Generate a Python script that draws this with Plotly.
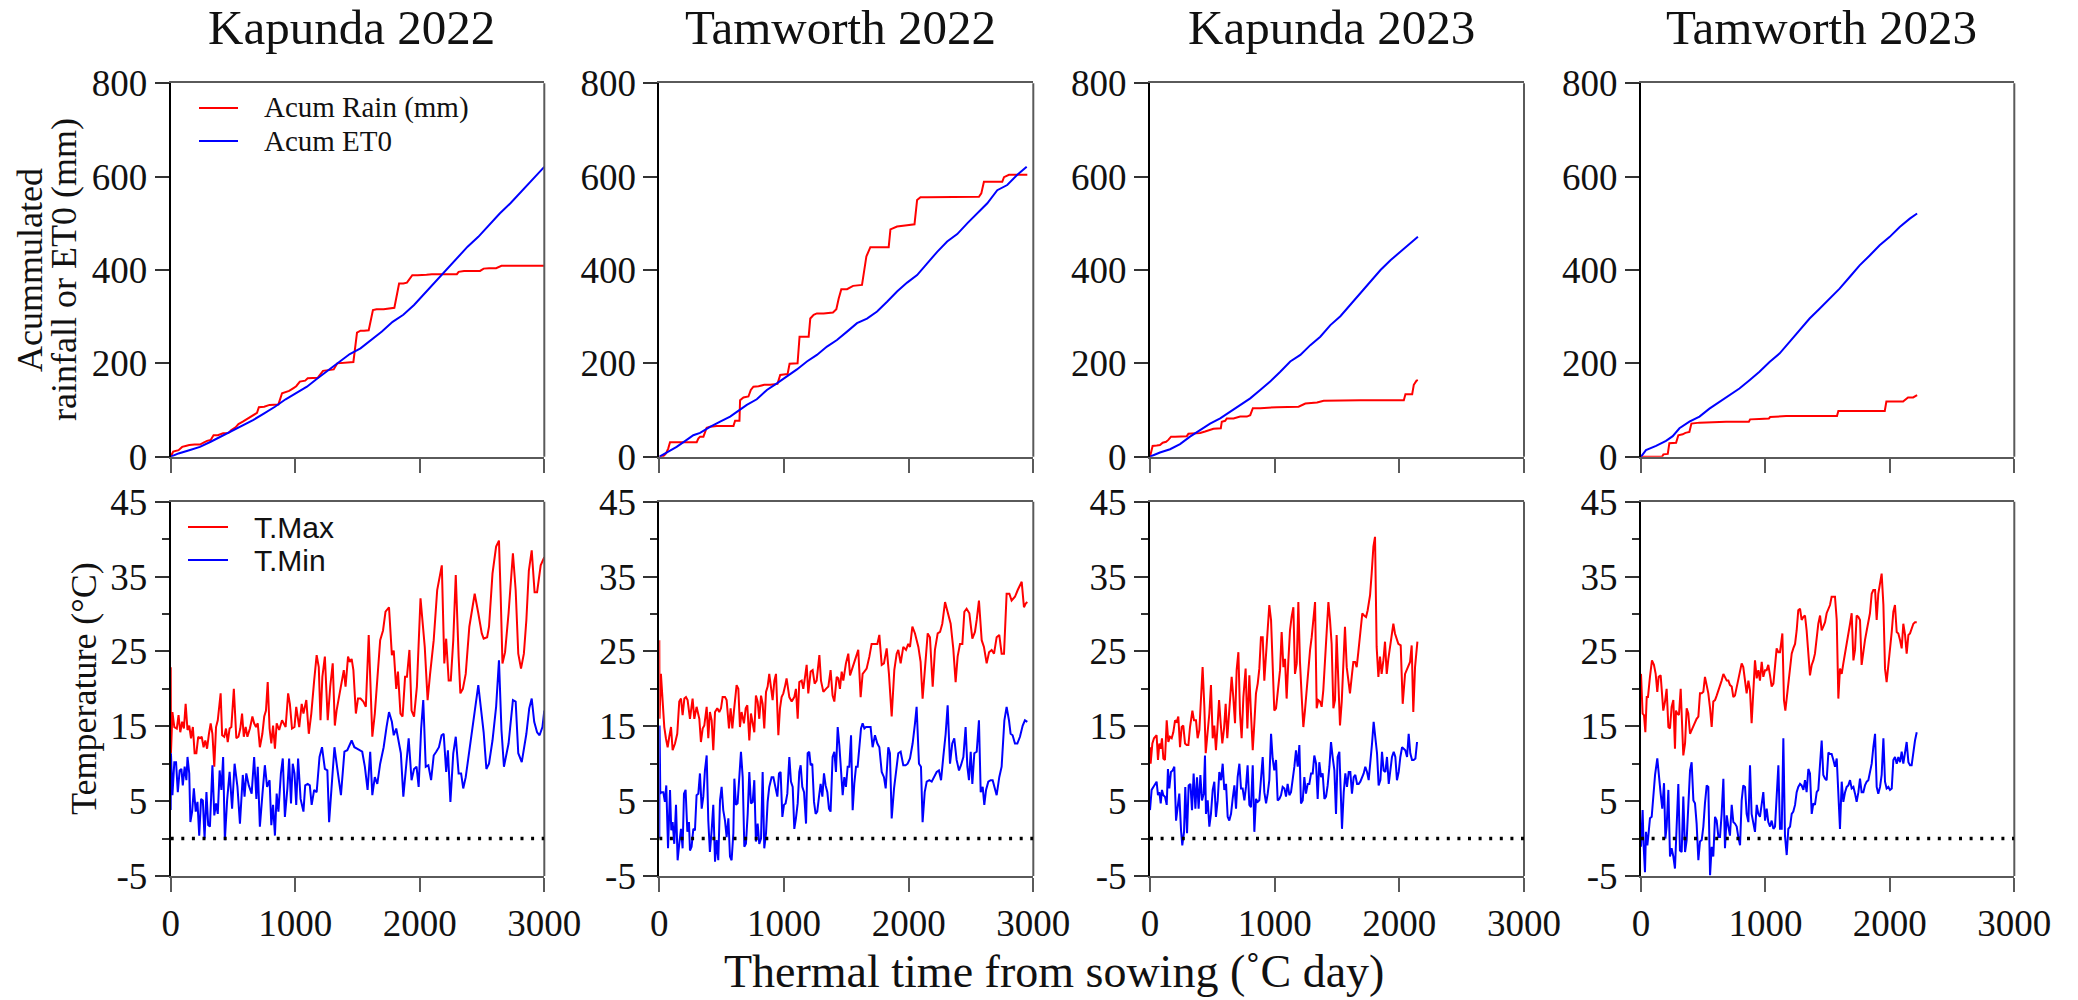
import plotly.graph_objects as go

# ---------------- data: (thermal time from sowing, value) ----------------
sites = ["Kapunda 2022", "Tamworth 2022", "Kapunda 2023", "Tamworth 2023"]

# accumulated rainfall (mm)
kap22_rain = [(0,0),(20,11),(63,14),(77,18),(92,21),(120,23),(149,25),(192,26),(235,26),(264,30),(292,34),(321,36),(344,46),(378,46),(421,50),(464,51),(487,57),(521,63),(544,70),(579,75),(622,82),(650,87),(693,94),(708,106),(751,107),(794,111),(865,112),(894,136),(923,139),(951,141),(980,146),(1008,151),(1037,161),(1080,163),(1100,168),(1137,169),(1180,169),(1223,184),(1266,186),(1309,187),(1338,200),(1381,201),(1424,203),(1467,203),(1496,266),(1524,270),(1553,270),(1590,271),(1624,314),(1653,316),(1710,316),(1753,317),(1796,319),(1834,371),(1868,371),(1897,373),(1911,379),(1940,389),(1983,389),(2026,389),(2054,390),(2097,391),(2140,391),(2240,391),(2298,391),(2312,396),(2355,398),(2484,398),(2513,403),(2556,404),(2613,404),(2656,409),(2699,409),(3000,409)]
tam22_rain = [(0,0),(32,1),(54,7),(72,18),(86,31),(126,31),(220,31),(300,31),(313,39),(327,43),(354,43),(380,62),(407,64),(461,66),(541,66),(595,66),(608,77),(643,77),(648,121),(675,127),(715,129),(734,143),(755,150),(796,151),(841,154),(889,154),(948,156),(970,175),(997,176),(1029,177),(1045,199),(1077,200),(1109,200),(1125,257),(1157,257),(1198,257),(1211,296),(1238,304),(1264,307),(1318,307),(1393,309),(1420,316),(1439,339),(1460,359),(1506,359),(1532,362),(1554,366),(1626,368),(1640,393),(1661,429),(1693,449),(1747,449),(1840,449),(1854,487),(1881,491),(1907,493),(1988,496),(2047,498),(2068,550),(2095,556),(2149,556),(2416,556),(2564,557),(2583,564),(2604,589),(2658,589),(2751,589),(2765,599),(2805,604),(2872,604),(2952,604)]
kap23_rain = [(0,0),(21,23),(54,24),(80,25),(102,30),(129,32),(147,36),(169,43),(201,43),(255,44),(295,44),(308,49),(348,50),(402,51),(442,54),(482,57),(509,60),(568,61),(576,75),(603,77),(616,82),(670,82),(723,86),(777,86),(804,89),(825,104),(884,104),(1018,106),(1098,106),(1192,107),(1246,114),(1340,116),(1393,120),(1527,121),(1688,121),(1902,121),(2036,121),(2049,134),(2103,134),(2116,154),(2138,163),(2149,164)]
tam23_rain = [(0,0),(40,0),(148,0),(169,0),(180,5),(215,6),(228,29),(282,30),(300,46),(335,48),(357,51),(389,53),(405,71),(470,73),(577,74),(684,75),(867,75),(877,80),(952,81),(1028,82),(1038,85),(1154,86),(1167,87),(1355,87),(1575,87),(1586,98),(1757,98),(1959,98),(1972,118),(2106,118),(2146,127),(2187,127),(2219,132)]

# accumulated reference evapotranspiration ET0 (mm)
kap22_et0 = [(0,0),(63,7),(149,14),(235,21),(321,32),(407,44),(493,56),(579,68),(665,79),(751,93),(837,107),(923,123),(1008,136),(1094,150),(1180,168),(1266,186),(1352,204),(1438,220),(1524,232),(1610,250),(1696,268),(1782,289),(1868,304),(1954,325),(2040,350),(2126,375),(2212,400),(2298,425),(2384,450),(2470,471),(2556,496),(2642,521),(2728,543),(2813,568),(2899,593),(3000,621)]
tam22_et0 = [(0,0),(59,9),(139,21),(220,36),(273,46),(327,51),(407,64),(488,75),(568,86),(622,96),(702,111),(782,123),(863,143),(943,157),(1023,171),(1104,187),(1184,204),(1264,218),(1345,236),(1425,250),(1506,268),(1586,286),(1666,296),(1747,311),(1827,332),(1907,354),(1988,373),(2068,389),(2149,414),(2229,439),(2309,461),(2390,477),(2470,500),(2550,521),(2631,543),(2711,571),(2791,582),(2872,604),(2947,621)]
kap23_et0 = [(0,0),(80,9),(161,16),(241,27),(321,43),(402,57),(482,71),(563,82),(643,96),(723,111),(804,125),(884,143),(964,161),(1045,182),(1125,204),(1206,218),(1286,239),(1366,257),(1447,282),(1527,301),(1607,325),(1688,350),(1768,375),(1849,400),(1929,421),(2009,439),(2090,459),(2149,471)]
tam23_et0 = [(0,0),(40,14),(121,23),(201,34),(255,44),(309,61),(389,75),(470,86),(550,103),(631,118),(711,132),(791,146),(872,164),(952,182),(1033,203),(1113,221),(1194,246),(1274,271),(1355,296),(1435,317),(1516,339),(1596,360),(1677,385),(1757,410),(1838,431),(1918,453),(1999,471),(2079,492),(2160,510),(2219,521)]

# daily maximum temperature (°C)
kap22_tmax = [(0,22.9),(2,11.4),(14,16.9),(29,14.9),(49,14.7),(63,16.5),(77,14.2),(92,15.6),(106,14.7),(120,18.0),(135,14.5),(149,15.1),(163,13.4),(178,14.9),(192,11.4),(206,11.4),(221,13.6),(235,13.4),(249,13.6),(264,12.2),(278,13.1),(292,12.0),(307,14.0),(321,15.4),(335,14.0),(350,9.6),(364,14.9),(378,15.8),(401,19.4),(413,13.8),(430,13.6),(444,14.7),(458,12.9),(473,14.7),(487,14.9),(507,20.0),(527,13.4),(544,13.6),(559,14.7),(573,16.7),(587,13.6),(602,14.9),(616,13.6),(636,14.7),(656,16.3),(670,15.4),(685,14.9),(699,15.4),(716,12.2),(736,14.0),(751,16.3),(765,17.1),(779,20.9),(794,14.7),(808,12.7),(822,15.1),(837,12.0),(851,15.4),(871,14.5),(894,15.8),(923,14.9),(943,19.4),(957,18.0),(974,14.7),(994,14.9),(1008,17.6),(1032,14.9),(1052,18.0),(1066,16.7),(1089,18.5),(1109,14.0),(1129,16.7),(1152,21.1),(1172,24.5),(1189,22.9),(1203,15.8),(1218,21.6),(1238,24.3),(1261,15.8),(1281,20.3),(1301,23.4),(1318,15.1),(1332,17.1),(1352,18.9),(1372,21.1),(1390,22.5),(1404,20.3),(1424,24.3),(1438,23.6),(1453,24.0),(1467,22.5),(1487,16.7),(1504,18.7),(1524,18.7),(1547,18.3),(1567,17.6),(1590,27.2),(1619,13.6),(1639,16.7),(1662,22.0),(1682,26.5),(1705,27.8),(1725,30.3),(1753,30.9),(1776,24.5),(1791,25.1),(1811,20.0),(1825,22.3),(1845,16.7),(1862,16.3),(1882,21.6),(1897,21.6),(1917,25.2),(1934,17.1),(1954,16.3),(1977,20.3),(2006,32.1),(2040,25.6),(2063,18.5),(2083,22.0),(2112,26.5),(2140,33.2),(2177,36.5),(2197,23.4),(2212,26.7),(2232,21.1),(2249,21.1),(2269,26.5),(2289,35.2),(2312,24.3),(2326,19.4),(2346,20.0),(2369,22.0),(2398,28.3),(2441,32.7),(2470,30.1),(2498,27.4),(2513,26.7),(2541,26.9),(2556,28.3),(2584,35.4),(2613,39.0),(2636,39.8),(2650,32.3),(2664,23.4),(2685,24.9),(2713,30.1),(2748,38.1),(2770,33.2),(2791,24.7),(2813,22.7),(2836,24.7),(2856,29.2),(2876,35.8),(2899,38.5),(2922,32.9),(2942,32.9),(2971,36.5),(3000,37.6)]
tam22_tmax = [(0,26.5),(2,16.0),(13,22.0),(27,18.9),(40,14.9),(53,13.4),(67,12.2),(80,13.6),(94,14.9),(107,11.8),(126,12.7),(144,14.0),(160,18.3),(174,18.7),(187,16.5),(201,18.7),(214,18.9),(227,18.5),(246,16.0),(267,18.7),(281,16.0),(299,17.6),(321,16.0),(334,12.9),(348,14.7),(361,15.1),(380,17.6),(393,13.4),(406,16.9),(420,15.8),(433,11.8),(447,16.9),(465,17.4),(481,16.9),(495,17.4),(508,18.9),(527,18.9),(540,18.5),(559,14.7),(572,17.4),(586,14.7),(599,17.1),(620,20.5),(634,20.0),(647,14.9),(660,16.9),(679,15.4),(693,17.4),(706,17.8),(722,13.1),(735,16.7),(749,15.4),(762,14.2),(775,19.1),(789,18.3),(802,16.0),(816,19.1),(829,18.0),(842,14.7),(856,19.6),(869,20.3),(882,22.0),(896,20.3),(909,18.5),(923,21.1),(936,22.0),(955,13.8),(968,17.4),(981,18.9),(995,19.4),(1008,20.3),(1021,21.4),(1043,18.9),(1062,18.3),(1083,18.9),(1096,20.0),(1110,16.0),(1123,20.9),(1142,21.1),(1155,20.0),(1169,21.6),(1182,23.2),(1195,19.4),(1214,22.3),(1230,22.5),(1246,20.7),(1262,21.1),(1284,24.5),(1297,21.1),(1316,19.6),(1337,20.0),(1356,20.3),(1374,22.5),(1390,19.1),(1404,18.3),(1423,21.6),(1436,21.4),(1449,20.0),(1463,22.3),(1476,21.1),(1497,23.4),(1516,24.7),(1530,21.8),(1551,22.9),(1578,24.3),(1596,25.2),(1615,18.9),(1631,22.0),(1645,22.3),(1663,22.7),(1685,24.3),(1703,26.0),(1730,26.0),(1749,26.0),(1765,27.2),(1784,23.2),(1802,23.4),(1824,25.4),(1842,22.0),(1864,16.3),(1885,22.5),(1904,24.7),(1917,25.2),(1936,23.4),(1957,25.6),(1979,25.2),(1997,26.0),(2011,25.6),(2030,28.3),(2051,27.4),(2078,25.6),(2096,23.6),(2112,18.7),(2131,22.5),(2153,27.4),(2171,26.9),(2193,20.3),(2211,25.2),(2233,27.4),(2252,27.6),(2270,28.7),(2292,31.6),(2318,30.1),(2337,28.7),(2358,25.4),(2377,20.9),(2393,24.3),(2412,26.0),(2431,26.0),(2447,30.3),(2465,30.7),(2487,30.1),(2511,26.7),(2532,27.6),(2546,29.2),(2564,31.8),(2586,26.5),(2604,25.6),(2626,23.4),(2645,24.9),(2666,25.2),(2685,24.7),(2706,26.9),(2727,27.2),(2746,24.7),(2765,24.7),(2786,32.7),(2808,32.7),(2826,31.8),(2853,32.3),(2875,33.2),(2907,34.3),(2925,30.9),(2939,31.4),(2952,31.6)]
kap23_tmax = [(0,12.2),(5,10.0),(19,12.7),(32,13.4),(53,13.8),(64,10.5),(75,12.7),(86,12.0),(96,13.4),(107,10.7),(120,10.5),(134,15.8),(147,12.9),(160,13.6),(174,13.4),(187,14.2),(201,15.8),(214,15.6),(227,16.3),(241,12.2),(254,14.9),(267,15.1),(281,12.7),(294,12.5),(308,12.5),(321,14.9),(340,17.1),(353,15.8),(369,15.8),(382,13.4),(396,14.5),(409,18.0),(422,22.9),(436,17.6),(447,11.4),(460,13.8),(476,16.7),(489,20.5),(503,13.4),(516,15.1),(529,11.8),(540,14.5),(554,18.5),(567,15.4),(580,12.7),(594,14.7),(607,18.0),(620,13.4),(634,16.3),(655,21.6),(668,18.9),(682,15.4),(695,22.5),(709,24.9),(722,16.7),(735,13.4),(749,18.9),(767,22.7),(781,14.7),(797,21.8),(810,16.7),(824,11.8),(837,15.4),(850,19.4),(864,20.7),(877,22.7),(890,26.9),(904,26.9),(917,21.1),(931,24.3),(944,27.6),(957,31.2),(971,29.2),(984,22.5),(997,17.1),(1011,17.4),(1029,20.3),(1043,22.5),(1056,27.6),(1070,22.9),(1083,24.0),(1096,18.7),(1110,23.8),(1123,27.8),(1136,29.6),(1150,30.9),(1163,22.0),(1177,23.4),(1190,31.6),(1203,23.6),(1217,18.9),(1230,14.9),(1243,17.1),(1257,19.8),(1270,22.9),(1284,25.2),(1297,26.9),(1310,29.2),(1324,31.6),(1337,17.4),(1350,18.5),(1364,18.3),(1377,17.6),(1390,19.8),(1404,23.8),(1417,28.3),(1431,31.6),(1444,29.2),(1457,26.0),(1471,17.4),(1484,18.5),(1497,27.2),(1511,21.1),(1524,15.1),(1538,18.3),(1551,23.6),(1564,28.3),(1578,22.9),(1591,21.1),(1604,19.4),(1618,21.6),(1631,23.6),(1645,23.6),(1658,22.9),(1671,24.9),(1685,26.9),(1703,30.1),(1717,29.8),(1733,29.6),(1746,30.5),(1765,32.5),(1778,35.4),(1792,39.0),(1805,40.3),(1818,25.6),(1832,21.6),(1845,24.3),(1858,22.0),(1872,23.8),(1885,26.3),(1899,22.0),(1912,24.0),(1925,25.6),(1939,26.9),(1952,28.7),(1965,27.4),(1979,26.7),(1992,26.0),(2011,25.8),(2027,18.0),(2046,22.0),(2059,22.5),(2072,22.9),(2086,23.6),(2099,25.8),(2112,16.9),(2126,22.9),(2145,26.3)]
tam23_tmax = [(0,22.0),(13,16.7),(24,16.5),(35,14.2),(46,18.9),(56,18.9),(72,21.6),(88,23.8),(104,23.2),(118,22.0),(131,19.6),(142,21.6),(158,21.8),(169,19.4),(179,17.1),(193,18.3),(206,20.0),(220,14.9),(233,14.7),(246,17.6),(260,18.5),(273,12.0),(281,17.1),(292,16.7),(305,16.5),(319,20.0),(330,15.4),(340,11.1),(354,12.7),(367,17.4),(380,16.7),(394,14.0),(407,14.5),(421,15.1),(434,15.6),(447,16.0),(461,16.3),(474,19.4),(488,19.4),(501,19.6),(514,21.6),(528,20.3),(541,19.4),(555,17.4),(568,14.9),(581,18.3),(595,18.5),(608,19.1),(622,19.8),(635,20.3),(648,21.1),(662,22.0),(675,21.6),(689,21.1),(702,21.1),(715,20.5),(729,20.3),(742,18.9),(755,19.1),(769,20.3),(782,21.1),(796,22.5),(809,23.4),(822,22.9),(836,21.1),(849,19.4),(863,21.1),(876,19.8),(889,15.4),(903,19.4),(916,23.8),(930,21.4),(943,22.5),(956,21.1),(970,23.6),(983,21.6),(997,22.5),(1010,22.5),(1023,23.2),(1037,21.8),(1050,20.3),(1064,20.7),(1077,22.9),(1090,25.4),(1104,24.9),(1117,24.9),(1136,27.4),(1149,18.5),(1160,17.1),(1171,18.9),(1184,21.1),(1198,23.2),(1211,24.7),(1224,25.4),(1238,26.0),(1251,27.8),(1264,30.5),(1278,30.7),(1291,29.2),(1305,29.6),(1318,29.8),(1331,27.8),(1345,24.5),(1358,21.8),(1372,23.2),(1385,23.8),(1398,24.7),(1412,26.9),(1425,28.7),(1439,29.8),(1452,27.8),(1465,28.3),(1479,28.9),(1492,30.1),(1506,30.7),(1519,31.2),(1532,32.3),(1546,32.3),(1559,32.3),(1573,29.2),(1586,18.7),(1599,22.7),(1613,22.0),(1626,23.4),(1640,24.7),(1653,25.8),(1666,27.2),(1680,28.7),(1693,30.1),(1707,23.8),(1720,25.2),(1733,29.8),(1747,29.6),(1760,29.2),(1773,23.2),(1787,25.2),(1800,26.5),(1814,27.8),(1827,29.2),(1840,30.1),(1854,32.7),(1867,33.2),(1881,33.2),(1894,29.2),(1907,32.7),(1921,34.1),(1934,35.4),(1948,31.2),(1961,22.7),(1974,20.9),(1988,22.9),(2001,25.2),(2015,27.6),(2028,30.3),(2041,31.2),(2055,27.6),(2068,27.4),(2082,26.5),(2095,25.4),(2108,28.7),(2122,27.2),(2135,24.7),(2149,27.2),(2162,27.4),(2175,28.1),(2189,28.7),(2202,28.9),(2216,28.9)]

# daily minimum temperature (°C)
kap22_tmin = [(0,3.8),(2,11.4),(14,5.8),(29,10.2),(43,10.2),(57,6.2),(72,9.1),(86,9.3),(97,7.1),(112,9.6),(126,7.8),(135,10.9),(149,8.7),(158,2.2),(172,3.6),(186,6.7),(201,3.6),(215,4.9),(229,0.4),(244,5.3),(258,5.1),(272,0.0),(287,6.2),(301,1.8),(315,1.6),(335,9.8),(350,3.1),(364,4.7),(378,3.3),(393,9.1),(407,6.5),(421,10.9),(435,-0.2),(453,5.1),(473,8.9),(493,4.0),(513,10.0),(536,6.9),(556,2.0),(579,8.5),(593,5.6),(607,8.7),(627,7.1),(650,6.0),(670,10.9),(688,5.3),(699,9.6),(716,1.6),(736,5.8),(756,9.8),(774,6.9),(794,7.8),(808,1.8),(822,4.5),(837,0.4),(851,6.0),(865,3.6),(885,8.7),(900,10.7),(917,2.9),(937,6.7),(951,10.7),(966,4.7),(980,10.0),(994,8.7),(1008,4.5),(1023,10.7),(1043,5.3),(1066,3.6),(1080,7.1),(1100,7.3),(1117,7.1),(1132,4.5),(1152,6.5),(1172,6.2),(1195,10.9),(1215,12.2),(1238,9.3),(1258,9.1),(1272,2.2),(1295,7.6),(1315,12.2),(1338,9.3),(1367,5.8),(1395,11.6),(1418,11.8),(1453,13.1),(1475,12.2),(1496,12.0),(1516,11.8),(1538,11.6),(1559,9.6),(1581,6.5),(1602,11.6),(1619,5.8),(1639,8.2),(1659,7.3),(1682,10.0),(1710,12.2),(1733,14.9),(1753,16.9),(1776,15.6),(1791,13.8),(1811,14.7),(1831,12.7),(1848,11.4),(1868,5.6),(1888,9.8),(1911,13.4),(1934,7.8),(1954,9.3),(1974,9.6),(1991,6.9),(2011,14.7),(2028,18.5),(2048,9.6),(2069,9.8),(2091,7.8),(2112,11.1),(2132,11.6),(2154,12.2),(2175,13.8),(2192,14.0),(2212,8.9),(2226,11.8),(2246,4.9),(2269,11.4),(2289,13.6),(2312,8.7),(2332,8.7),(2349,6.7),(2369,8.2),(2398,11.8),(2441,17.6),(2470,20.5),(2513,14.2),(2535,9.3),(2556,10.0),(2584,13.1),(2613,17.6),(2636,23.8),(2656,14.5),(2676,9.6),(2713,12.7),(2748,18.5),(2770,18.3),(2791,11.4),(2819,10.2),(2856,14.0),(2879,17.4),(2899,18.7),(2919,15.6),(2942,14.2),(2962,13.8),(2985,14.9),(3000,17.1)]
tam22_tmin = [(0,0.0),(2,15.1),(8,6.0),(16,6.2),(32,6.2),(45,4.9),(56,7.1),(70,-1.3),(86,6.5),(96,1.1),(107,2.2),(120,-0.7),(134,4.5),(147,-2.9),(160,-0.7),(174,1.3),(187,-1.3),(198,6.0),(211,6.5),(225,0.9),(238,2.2),(246,-1.6),(259,-1.1),(273,1.3),(286,1.1),(299,5.8),(313,6.0),(326,8.7),(340,4.0),(353,5.6),(366,9.1),(380,11.1),(393,2.4),(406,-1.8),(420,1.1),(433,4.5),(447,-3.1),(460,-0.2),(473,-2.9),(487,5.1),(500,6.9),(513,3.8),(527,2.4),(540,0.2),(554,2.7),(567,-2.4),(580,-2.9),(594,0.7),(602,8.0),(615,4.5),(628,4.7),(642,7.8),(655,11.6),(669,8.2),(682,-1.1),(695,-0.7),(709,3.3),(722,8.9),(735,4.7),(749,4.9),(762,7.8),(775,-0.4),(789,2.0),(802,-0.7),(816,0.0),(829,8.9),(842,-1.3),(856,0.7),(869,4.9),(882,6.9),(901,8.2),(915,8.2),(928,7.3),(947,5.6),(960,8.7),(973,8.9),(987,2.9),(1000,4.5),(1013,4.7),(1027,6.0),(1043,10.9),(1056,7.6),(1070,6.9),(1083,1.3),(1096,2.7),(1110,4.7),(1123,8.9),(1134,9.8),(1147,6.9),(1161,6.2),(1177,2.0),(1190,11.4),(1203,11.6),(1214,9.8),(1227,10.0),(1241,4.9),(1254,3.3),(1267,3.6),(1281,5.6),(1294,7.3),(1308,5.6),(1321,8.7),(1334,7.1),(1348,6.2),(1361,4.0),(1374,3.6),(1390,10.9),(1404,11.6),(1417,8.9),(1431,14.9),(1444,12.5),(1457,9.6),(1471,5.8),(1484,8.2),(1497,6.9),(1511,9.6),(1524,9.6),(1538,13.8),(1551,3.8),(1564,7.3),(1578,9.6),(1591,9.6),(1604,12.7),(1618,14.7),(1631,15.4),(1645,14.7),(1658,14.9),(1677,14.9),(1695,14.9),(1711,12.2),(1730,13.8),(1749,12.7),(1765,12.2),(1784,8.9),(1802,8.2),(1816,6.7),(1837,12.2),(1850,11.4),(1864,2.7),(1883,6.7),(1899,8.7),(1917,11.4),(1936,11.6),(1957,9.8),(1976,9.8),(1992,10.0),(2011,10.7),(2032,12.7),(2051,15.4),(2064,17.6),(2083,10.0),(2099,9.6),(2112,2.2),(2129,6.2),(2145,7.6),(2166,7.8),(2185,7.6),(2203,8.2),(2225,8.9),(2243,9.1),(2260,7.8),(2278,10.9),(2297,14.0),(2313,17.8),(2332,10.0),(2350,12.7),(2366,13.4),(2385,10.5),(2404,9.1),(2420,9.8),(2439,10.9),(2457,14.9),(2471,9.6),(2484,7.8),(2498,11.6),(2511,7.3),(2527,11.4),(2546,11.6),(2564,15.8),(2578,6.2),(2594,6.9),(2607,4.5),(2621,6.5),(2639,7.6),(2658,7.8),(2674,7.8),(2687,7.1),(2706,5.8),(2727,8.2),(2746,9.6),(2768,15.8),(2786,17.6),(2805,15.8),(2818,14.0),(2834,13.8),(2853,12.7),(2872,12.7),(2893,13.6),(2915,15.1),(2933,15.8),(2952,15.6)]
kap23_tmin = [(0,3.8),(13,6.5),(27,6.9),(40,7.3),(53,7.6),(64,5.8),(75,6.2),(86,4.7),(96,6.5),(107,5.8),(120,5.6),(134,4.5),(144,9.3),(155,6.7),(168,8.9),(182,9.1),(195,9.6),(209,2.4),(222,4.7),(235,6.0),(249,1.1),(259,-0.9),(273,0.9),(283,6.9),(297,0.7),(310,7.1),(324,7.3),(337,3.8),(350,8.7),(364,4.0),(377,8.2),(390,4.0),(404,8.5),(417,5.1),(431,6.0),(441,11.1),(449,3.3),(463,5.1),(476,1.6),(489,3.3),(503,6.5),(516,7.6),(529,2.9),(543,5.1),(556,8.9),(570,7.8),(583,10.0),(596,6.5),(610,7.3),(623,2.9),(636,2.4),(650,3.3),(663,5.3),(677,7.1),(690,4.0),(703,8.2),(717,10.0),(730,6.7),(743,6.7),(757,5.1),(770,6.9),(783,9.8),(797,4.5),(810,4.2),(824,9.8),(837,0.9),(850,5.3),(864,4.9),(877,5.1),(890,7.6),(904,10.9),(917,6.2),(931,4.7),(944,6.0),(957,7.8),(971,14.0),(984,10.7),(997,9.1),(1011,10.5),(1024,5.1),(1038,5.3),(1051,5.8),(1064,6.9),(1078,6.7),(1091,5.6),(1104,7.3),(1118,5.8),(1131,6.2),(1144,7.6),(1158,9.6),(1171,11.8),(1185,9.6),(1198,12.5),(1211,4.7),(1225,5.1),(1238,8.2),(1251,6.0),(1265,7.3),(1278,7.3),(1292,8.7),(1305,8.7),(1318,11.1),(1332,10.0),(1345,5.3),(1358,10.2),(1372,8.2),(1385,8.7),(1399,5.3),(1412,5.6),(1425,7.1),(1439,9.6),(1452,12.9),(1465,10.9),(1479,9.1),(1492,3.3),(1505,10.9),(1519,11.6),(1532,3.6),(1540,1.3),(1554,6.2),(1567,8.7),(1580,6.9),(1594,8.9),(1607,8.9),(1620,6.0),(1634,8.2),(1647,8.5),(1661,7.3),(1674,7.3),(1687,7.6),(1701,8.2),(1714,8.7),(1727,9.6),(1741,8.9),(1754,7.8),(1768,10.0),(1781,12.7),(1794,15.6),(1808,13.6),(1821,11.4),(1834,7.1),(1848,7.8),(1861,11.6),(1874,9.1),(1888,8.9),(1901,10.9),(1915,7.3),(1928,8.9),(1941,10.9),(1955,11.6),(1968,10.9),(1981,7.8),(1995,8.9),(2008,10.9),(2022,12.2),(2035,12.0),(2048,11.8),(2062,10.9),(2075,14.0),(2088,11.4),(2102,10.5),(2115,10.5),(2129,10.7),(2142,12.9)]
tam23_tmin = [(0,-1.1),(13,3.8),(21,-0.9),(32,-4.5),(40,0.9),(51,-0.9),(62,0.9),(72,2.7),(86,2.9),(99,5.3),(113,8.5),(131,10.7),(145,7.8),(158,6.0),(171,4.0),(185,7.4),(196,0.0),(206,1.6),(220,6.5),(233,-2.4),(246,-1.3),(260,-2.4),(273,-4.0),(287,1.8),(300,7.3),(313,-1.6),(327,-1.8),(340,5.6),(354,-1.8),(367,-0.2),(380,4.9),(394,9.1),(407,10.2),(421,5.1),(434,4.7),(447,2.0),(461,-2.9),(474,-0.4),(488,-0.2),(501,1.6),(514,4.7),(528,7.1),(541,6.9),(555,-4.9),(568,-1.1),(581,-2.4),(595,2.9),(608,2.4),(622,0.2),(635,0.2),(648,3.3),(662,8.0),(675,-1.3),(689,3.1),(702,1.6),(715,0.4),(729,4.5),(742,2.2),(755,2.0),(769,1.6),(782,0.2),(796,-0.9),(809,5.1),(822,7.1),(836,6.9),(849,3.3),(863,2.2),(876,9.8),(889,3.3),(903,2.0),(916,0.9),(930,4.5),(943,3.3),(956,2.9),(970,5.1),(983,6.2),(997,2.4),(1010,4.0),(1023,2.2),(1037,1.6),(1050,2.4),(1064,1.3),(1077,1.6),(1090,5.8),(1104,9.8),(1117,1.3),(1131,1.3),(1144,13.4),(1157,0.4),(1171,-2.2),(1184,1.3),(1198,1.6),(1211,3.3),(1224,3.6),(1238,4.5),(1251,6.2),(1264,6.9),(1278,7.3),(1291,7.1),(1305,6.5),(1318,7.8),(1331,6.2),(1345,9.3),(1358,8.7),(1372,3.3),(1385,4.7),(1398,4.5),(1412,6.2),(1425,6.5),(1439,10.0),(1452,13.1),(1465,8.5),(1479,8.0),(1492,7.8),(1506,11.5),(1519,11.3),(1532,11.3),(1546,10.5),(1559,9.6),(1573,10.7),(1586,6.0),(1599,1.3),(1613,7.6),(1626,4.9),(1640,6.2),(1653,6.9),(1666,7.1),(1680,7.8),(1693,6.7),(1707,6.9),(1720,6.0),(1733,4.9),(1747,6.2),(1760,8.0),(1773,6.2),(1787,6.2),(1800,7.1),(1814,7.6),(1827,7.8),(1840,8.7),(1854,10.0),(1867,12.2),(1881,14.0),(1894,6.9),(1907,6.0),(1921,6.9),(1934,8.5),(1948,13.4),(1961,7.6),(1974,6.7),(1988,6.9),(2001,6.5),(2015,6.7),(2028,10.5),(2041,10.9),(2055,10.0),(2068,10.9),(2082,10.2),(2095,11.6),(2108,10.0),(2122,11.8),(2135,12.9),(2149,10.2),(2162,9.8),(2175,9.8),(2189,11.8),(2202,13.1),(2216,14.2)]

rain_series = [kap22_rain, tam22_rain, kap23_rain, tam23_rain]
et0_series = [kap22_et0, tam22_et0, kap23_et0, tam23_et0]
tmax_series = [kap22_tmax, tam22_tmax, kap23_tmax, tam23_tmax]
tmin_series = [kap22_tmin, tam22_tmin, kap23_tmin, tam23_tmin]

x_ticks = [0, 1000, 2000, 3000]
acc_ticks = [0, 200, 400, 600, 800]
temp_ticks = [-5, 5, 15, 25, 35, 45]
temp_minor = [0, 10, 20, 30, 40]

# ---------------- layout geometry (pixels) ----------------
W, H = 2078, 1000
col_px = [(170.7, 544.3), (659.3, 1033.3), (1150.0, 1524.0), (1641.0, 2014.3)]
top_px = (83.3, 456.7)
bot_px = (501.7, 876.0)

SERIF = "Liberation Serif"
SANS = "Liberation Sans"
RED, BLUE = "#ff0000", "#0000ff"
INK = "#111111"
FRAME = "#5a5a5a"
TICKFONT = dict(family=SERIF, size=37, color=INK)


def px_x(p):
    return p / W


def px_y(p):
    return 1 - p / H


def unzip(pairs):
    return [p[0] for p in pairs], [p[1] for p in pairs]


def labels(vals):
    # plain hyphen for negatives, as in the printed figure
    return [str(v) for v in vals]


fig = go.Figure()
layout = dict(
    width=W, height=H, margin=dict(l=0, r=0, t=0, b=0),
    paper_bgcolor="white", plot_bgcolor="white", showlegend=False,
    font=dict(family=SERIF, color=INK),
)

shapes, annotations = [], []

for i in range(4):
    for row in (0, 1):
        k = i + 1 + 4 * row
        sfx = "" if k == 1 else str(k)
        xa, ya = "x" + sfx, "y" + sfx
        x0, x1 = col_px[i]
        r0, r1 = top_px if row == 0 else bot_px
        layout["xaxis" + sfx] = dict(
            domain=[px_x(x0), px_x(x1)], anchor=ya, range=[0, 3000],
            tickmode="array", tickvals=x_ticks, ticktext=labels(x_ticks),
            ticks="outside", ticklen=14, tickwidth=2,
            tickcolor=FRAME, showline=True, linecolor=FRAME, linewidth=2,
            mirror=True, showgrid=False, zeroline=False,
            showticklabels=(row == 1), automargin=False, tickfont=TICKFONT,
        )
        yax = dict(
            domain=[px_y(r1), px_y(r0)], anchor=xa, tickmode="array",
            ticks="outside", ticklen=14, tickwidth=2, tickcolor="#333333",
            showline=True, linecolor="#000000", linewidth=2, mirror=False,
            showgrid=False, zeroline=False, automargin=False, tickfont=TICKFONT,
        )
        if row == 0:
            yax.update(range=[0, 800], tickvals=acc_ticks, ticktext=labels(acc_ticks))
        else:
            yax.update(range=[-5, 45], tickvals=temp_ticks, ticktext=labels(temp_ticks),
                       minor=dict(tickvals=temp_minor, ticks="outside",
                                  ticklen=7, tickwidth=2, tickcolor="#333333"))
        layout["yaxis" + sfx] = yax

        # right-hand frame edge
        shapes.append(dict(type="line", xref=xa + " domain", yref=ya + " domain",
                           x0=1, x1=1, y0=0, y1=1,
                           line=dict(color=FRAME, width=2)))

        if row == 0:
            xs, ys = unzip(rain_series[i])
            fig.add_trace(go.Scatter(x=xs, y=ys, mode="lines", name="Acum Rain (mm)",
                                     line=dict(color=RED, width=2), xaxis=xa, yaxis=ya))
            xs, ys = unzip(et0_series[i])
            fig.add_trace(go.Scatter(x=xs, y=ys, mode="lines", name="Acum ET0",
                                     line=dict(color=BLUE, width=2), xaxis=xa, yaxis=ya))
        else:
            # 0 °C reference line
            shapes.append(dict(type="line", xref=xa, yref=ya, x0=0, x1=3000, y0=0, y1=0,
                               line=dict(color="#000000", width=3.5, dash="3px,7.6px")))
            xs, ys = unzip(tmax_series[i])
            fig.add_trace(go.Scatter(x=xs, y=ys, mode="lines", name="T.Max",
                                     line=dict(color=RED, width=2), xaxis=xa, yaxis=ya))
            xs, ys = unzip(tmin_series[i])
            fig.add_trace(go.Scatter(x=xs, y=ys, mode="lines", name="T.Min",
                                     line=dict(color=BLUE, width=2), xaxis=xa, yaxis=ya))

    # site titles
    annotations.append(dict(text=sites[i], xref="paper", yref="paper",
                            x=px_x((col_px[i][0] + col_px[i][1]) / 2 - 6), y=px_y(27),
                            xanchor="center", yanchor="middle", showarrow=False,
                            font=dict(family=SERIF, size=49, color=INK)))

# legends drawn inside the first column
legend_rows = [
    (108, RED, "Acum Rain (mm)", SERIF, 29, 199, 238, 262),
    (141, BLUE, "Acum ET0", SERIF, 29, 199, 238, 262),
    (527, RED, "T.Max", SANS, 30, 188, 228, 252),
    (560, BLUE, "T.Min", SANS, 30, 188, 228, 252),
]
for yy, col, label, fam, size, lx0, lx1, tx in legend_rows:
    shapes.append(dict(type="line", xref="paper", yref="paper",
                       x0=px_x(lx0), x1=px_x(lx1), y0=px_y(yy), y1=px_y(yy),
                       line=dict(color=col, width=2)))
    annotations.append(dict(text=label, xref="paper", yref="paper",
                            x=px_x(tx), y=px_y(yy), xanchor="left", yanchor="middle",
                            showarrow=False, font=dict(family=fam, size=size, color=INK)))

# axis titles
annotations += [
    dict(text="Acummulated", xref="paper", yref="paper", x=px_x(30), y=px_y(270),
         textangle=-90, xanchor="center", yanchor="middle", showarrow=False,
         font=dict(family=SERIF, size=36, color=INK)),
    dict(text="rainfall or ET0 (mm)", xref="paper", yref="paper", x=px_x(64), y=px_y(270),
         textangle=-90, xanchor="center", yanchor="middle", showarrow=False,
         font=dict(family=SERIF, size=36, color=INK)),
    dict(text="Temperature (°C)", xref="paper", yref="paper", x=px_x(84), y=px_y(689),
         textangle=-90, xanchor="center", yanchor="middle", showarrow=False,
         font=dict(family=SERIF, size=36, color=INK)),
    dict(text="Thermal time from sowing (˚C day)", xref="paper", yref="paper",
         x=px_x(1054), y=px_y(971), xanchor="center", yanchor="middle", showarrow=False,
         font=dict(family=SERIF, size=46, color=INK)),
]

layout["shapes"] = shapes
layout["annotations"] = annotations
fig.update_layout(**layout)
fig.write_html("out.html")
